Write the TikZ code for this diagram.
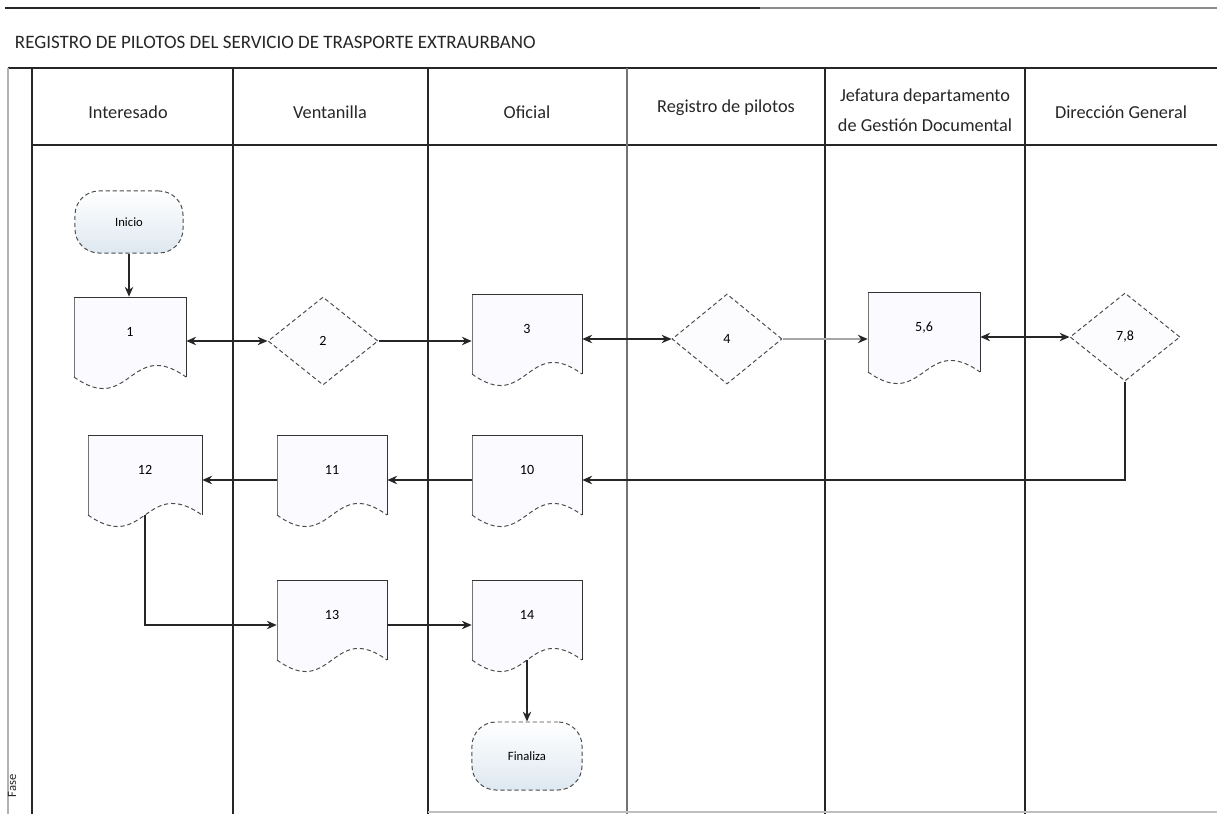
\documentclass[tikz,border=0pt]{standalone}
\usepackage{fontspec}
\setmainfont{Carlito}
\usetikzlibrary{shapes.geometric,arrows.meta,fit}
\definecolor{termbot}{RGB}{222,232,240}
\tikzset{
  lane/.style={line width=1.1pt, black!85},
  lanelight/.style={line width=0.9pt, black!55},
  hdr/.style={font=\fontsize{13}{15}\selectfont, align=center, text=black!85},
  docfit/.style={inner sep=0pt, draw=none, font=\fontsize{10}{12}\selectfont},
  docedge/.style={draw=black!55, line width=0.6pt},
  docwave/.style={draw=black!70, line width=0.7pt, densely dashed},
  docfill/.style={fill=blue!1.5},
  decision/.style={diamond, draw=black!70, densely dashed, line width=0.7pt, fill=blue!1,
    inner sep=0pt, minimum width=2.75cm, minimum height=2.2cm, font=\fontsize{10}{12}\selectfont},
  terminal/.style={rectangle, rounded corners=0.6cm, draw=black!70, densely dashed, line width=0.7pt,
    top color=white, bottom color=termbot, font=\fontsize{9}{11}\selectfont},
  flow/.style={line width=1.1pt, black!85, -{Stealth[length=7pt,width=6pt]}},
  flowgray/.style={line width=1.1pt, draw=black!35, -{Stealth[length=7pt,width=6pt,black!85]}},
  flow2/.style={line width=1.1pt, black!85, {Stealth[length=7pt,width=6pt]}-{Stealth[length=7pt,width=6pt]}},
}
\newcommand{\docshape}[6]{%
  \fill[docfill] (#2,#3) -- (#4,#3) -- (#4,{#3+80})
    .. controls ({(#2+#4)/2},{#3+80-40}) and ({(#2+#4)/2},{#3+80+40}) .. (#2,{#3+80}) -- cycle;
  \draw[docedge] (#2,{#3+80}) -- (#2,#3);
  \draw[docedge, black!80] (#2,#3) -- (#4,#3) -- (#4,{#3+80});
  \draw[docwave] (#2,{#3+80}) .. controls ({(#2+#4)/2},{#3+80+40}) and ({(#2+#4)/2},{#3+80-40}) .. (#4,{#3+80});
  \node[docfit, fit={(#2,#3) (#4,{#3+90})}] (#1) {\raisebox{4pt}{#6}};
}
\begin{document}
\begin{tikzpicture}[x=0.025cm, y=-0.025cm]
\useasboundingbox (0,0) rectangle (1217,814);
% frame
\draw[line width=1.4pt, black!85] (5,8) -- (760,8);
\draw[line width=1.2pt, black!45] (760,8) -- (1217,8);
\node[anchor=west, font=\fontsize{13.5}{15}\selectfont, text=black!85] (title) at (10,42) {REGISTRO DE PILOTOS DEL SERVICIO DE TRASPORTE EXTRAURBANO};
\draw[lane] (8,68) -- (1217,68);
\draw[lane] (32,145) -- (1217,145);
\draw[line width=0.8pt, black!30] (8,68) -- (8,814);
\draw[lane] (32,68) -- (32,814);
\foreach \x in {233,428,825,1025} \draw[lane] (\x,68) -- (\x,814);
\draw[lanelight] (627,68) -- (627,814);
\draw[line width=0.8pt, black!25] (428,812) -- (1217,812);
\node[rotate=90, anchor=west, font=\fontsize{9}{10}\selectfont, text=black!85] (fase) at (12,802) {Fase};
% headers
\node[hdr] (h1) at (128,112) {Interesado};
\node[hdr] (h2) at (330,112) {Ventanilla};
\node[hdr] (h3) at (527,112) {Oficial};
\node[hdr] (h4) at (726,108) {Registro de pilotos};
\node[hdr, font=\fontsize{13}{21}\selectfont] (h5) at (925,110) {Jefatura departamento\\de Gestión Documental};
\node[hdr] (h6) at (1121,112) {Dirección General};
% shapes
\node[terminal, minimum width=2.7cm, minimum height=1.55cm] (ini) at (129,222) {Inicio};
\docshape{d1}{74}{297}{186}{0}{1}
\node[decision] (dia2) at (323,341) {2};
\docshape{d3}{472}{294}{582}{0}{3}
\node[decision, minimum height=2.25cm] (dia4) at (727,339) {4};
\docshape{d56}{868}{292}{980}{0}{5,6}
\node[decision] (dia78) at (1125,337) {7,8};
\docshape{d10}{472}{435}{582}{0}{10}
\docshape{d11}{277}{435}{387}{0}{11}
\docshape{d12}{88}{435}{202}{0}{12}
\docshape{d13}{277}{580}{387}{0}{13}
\docshape{d14}{472}{580}{582}{0}{14}
\node[terminal, minimum width=2.75cm, minimum height=1.7cm] (fin) at (527,756) {Finaliza};
% connectors
\draw[flow] (ini.south) -- (ini.south |- d1.north);
\draw[flow2] (dia2.west -| d1.east) -- (dia2.west);
\draw[flow] (dia2.east) -- (dia2.east -| d3.west);
\draw[flow2] (dia4.west -| d3.east) -- (dia4.west);
\draw[flowgray] (dia4.east) -- (dia4.east -| d56.west);
\draw[flow2] (dia78.west -| d56.east) -- (dia78.west);
\draw[flow] (dia78.south) |- (d10.east);
\draw[flow] (d10.west) -- (d11.east);
\draw[flow] (d11.west) -- (d12.east);
\draw[flow] ([yshift=7pt]d12.south) |- (d13.west);
\draw[flow] (d13.east) -- (d14.west);
\draw[flow] ([yshift=7pt]d14.south) -- (fin.north);
\end{tikzpicture}
\end{document}
